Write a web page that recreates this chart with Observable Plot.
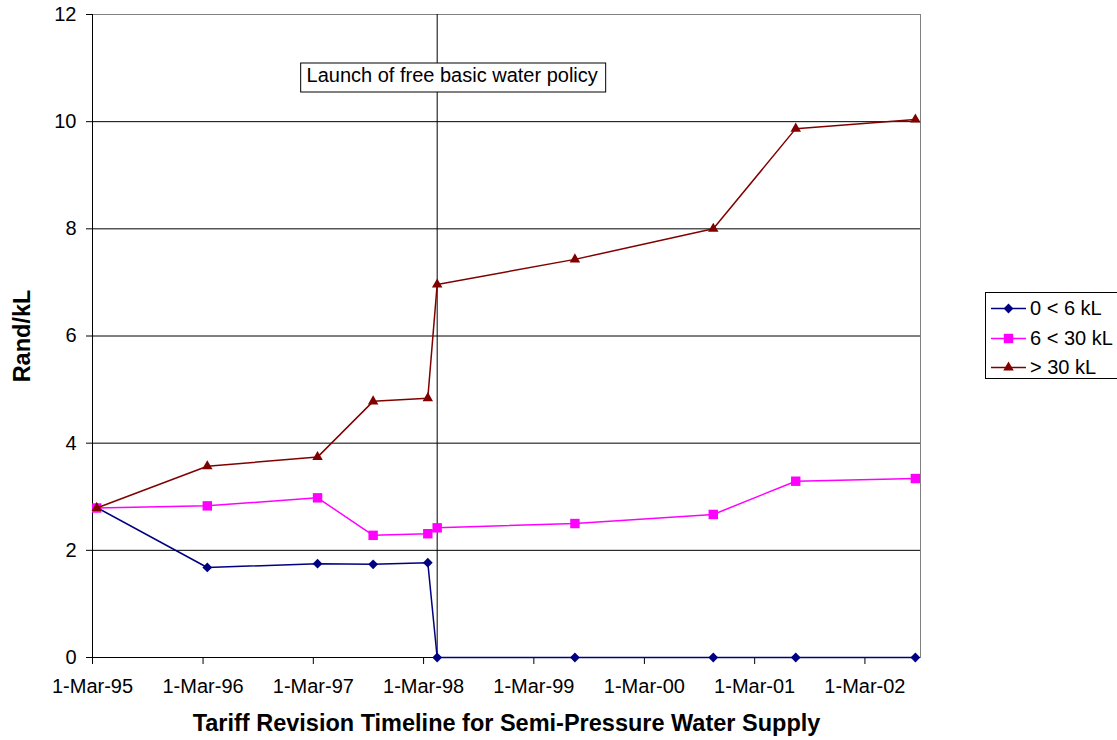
<!DOCTYPE html>
<html>
<head>
<meta charset="utf-8">
<script src="https://cdn.jsdelivr.net/npm/d3@7"></script>
<script src="https://cdn.jsdelivr.net/npm/@observablehq/plot@0.6"></script>
<style>
  html, body { margin: 0; padding: 0; background: #fff; }
  #chart { width: 1117px; height: 740px; }
</style>
</head>
<body>
<div id="chart"></div>
<script>
// Tariff revision dates and charges (Rand per kL) for each consumption block
const revisionDates = ["1995-03-15", "1996-03-15", "1997-03-15", "1997-09-15", "1998-03-15",
                       "1998-04-15", "1999-07-15", "2000-10-15", "2001-07-15", "2002-08-15"];
const seriesNames = ["0 < 6 kL", "6 < 30 kL", "> 30 kL"];
const lowBlock  = [2.80, 1.68, 1.75, 1.74, 1.77, 0, 0, 0, 0, 0];
const midBlock  = [2.79, 2.83, 2.98, 2.28, 2.31, 2.42, 2.50, 2.67, 3.29, 3.34];
const highBlock = [2.79, 3.57, 3.74, 4.78, 4.84, 6.96, 7.43, 8.00, 9.87, 10.04];

const yTicks = [0, 2, 4, 6, 8, 10, 12];
const xTicks = ["1995-03-01", "1996-03-01", "1997-03-01", "1998-03-01",
                "1999-03-01", "2000-03-01", "2001-03-01", "2002-03-01"];
const xDomain = ["1995-03-01", "2002-09-01"];
const policyDate = "1998-04-15";
const policyLabel = "Launch of free basic water policy";
const xTitle = "Tariff Revision Timeline for Semi-Pressure Water Supply";
const yTitle = "Rand/kL";

// styling per series
const seriesColors = ["#000080", "#ff00ff", "#800000"];
const seriesSymbols = [d3.symbolDiamond2, d3.symbolSquare2, d3.symbolTriangle2];
const seriesRadii = [4.4, 6, 5];

const blocks = [lowBlock, midBlock, highBlock];
const rows = blocks.flatMap((vals, s) =>
  vals.map((v, i) => ({series: seriesNames[s], date: new Date(revisionDates[i]), value: v})));

const font = "'Liberation Sans', Arial, sans-serif";
const policy = new Date(policyDate);

const seriesMarks = seriesNames.flatMap((name, s) => {
  const data = rows.filter(d => d.series === name);
  return [
    Plot.line(data, {x: "date", y: "value", stroke: seriesColors[s], strokeWidth: 1.5}),
    Plot.dot(data, {x: "date", y: "value", symbol: () => seriesSymbols[s], fill: seriesColors[s],
                    stroke: "none", r: seriesRadii[s]})
  ];
});

const chart = Plot.plot({
  width: 1117,
  height: 740,
  marginTop: 14,
  marginLeft: 92,
  marginRight: 197,
  marginBottom: 83,
  style: {fontFamily: font, fontSize: "20px", color: "black", background: "white"},
  x: {type: "utc", domain: xDomain.map(d => new Date(d)), label: null},
  y: {domain: [0, 12], label: null},
  symbol: {type: "identity"},
  marks: [
    Plot.frame({stroke: "#808080"}),
    Plot.ruleY(yTicks.filter(v => v > 0 && v < 12), {stroke: "black", strokeWidth: 1}),
    Plot.ruleX([policy], {stroke: "black", strokeWidth: 1}),
    Plot.ruleX([new Date(xDomain[0])], {stroke: "black"}),
    Plot.ruleY([0], {stroke: "black"}),
    Plot.axisY(yTicks, {tickSize: 6, tickPadding: 10, stroke: "black", fill: "black",
      fontSize: 20, tickFormat: d => String(d), label: null}),
    Plot.axisX(xTicks.map(d => new Date(d)), {tickSize: 7, tickPadding: 14, fontSize: 20,
      fill: "black", tickFormat: d3.utcFormat("%-d-%b-%y"), stroke: "black", label: null}),
    ...seriesMarks,
    Plot.text([policyLabel], {x: () => policy, frameAnchor: "top", lineAnchor: "middle",
      textAnchor: "middle", dy: 61, dx: 15, fontSize: 20, fill: "black"}),
    Plot.text([yTitle], {frameAnchor: "left", textAnchor: "middle", lineAnchor: "middle",
      dx: -70, rotate: -90, fontWeight: "bold", fontSize: 23.5, fill: "black"}),
    Plot.text([xTitle], {frameAnchor: "bottom", textAnchor: "middle", lineAnchor: "middle",
      dy: 66, fontWeight: "bold", fontSize: 23.5, fill: "black"})
  ]
});

document.getElementById("chart").append(chart);

// boxed annotation behind the policy label
const svg = d3.select(chart);
svg.selectAll("text").filter(function() { return this.textContent === policyLabel; })
  .each(function() {
    const bb = this.getBBox();
    d3.select(this.parentNode).insert("rect", () => this)
      .attr("transform", this.getAttribute("transform"))
      .attr("x", Math.round(bb.x - 6) + 0.5)
      .attr("y", Math.round(bb.y - 1.5) + 0.5)
      .attr("width", Math.round(bb.width + 14))
      .attr("height", Math.round(bb.height + 6.5))
      .attr("fill", "white")
      .attr("stroke", "black");
  });

// legend to the right of the plot area
const legend = svg.append("g")
  .attr("font-family", font).attr("font-size", 20).attr("text-anchor", "start");
legend.append("rect")
  .attr("x", 985.5).attr("y", 292.5).attr("width", 140).attr("height", 86)
  .attr("fill", "white").attr("stroke", "black");
seriesNames.forEach((name, s) => {
  const cy = Math.round(308 + s * 29.5);
  legend.append("line")
    .attr("x1", 991).attr("x2", 1026).attr("y1", cy + 0.5).attr("y2", cy + 0.5)
    .attr("stroke", seriesColors[s]).attr("stroke-width", 1.5);
  legend.append("path")
    .attr("transform", `translate(1008.5,${cy + 0.5})`)
    .attr("d", d3.symbol(seriesSymbols[s], Math.PI * seriesRadii[s] ** 2)())
    .attr("fill", seriesColors[s]);
  legend.append("text")
    .attr("x", 1030).attr("y", cy).attr("dy", "0.35em")
    .attr("fill", "black").text(name);
});
</script>
</body>
</html>
